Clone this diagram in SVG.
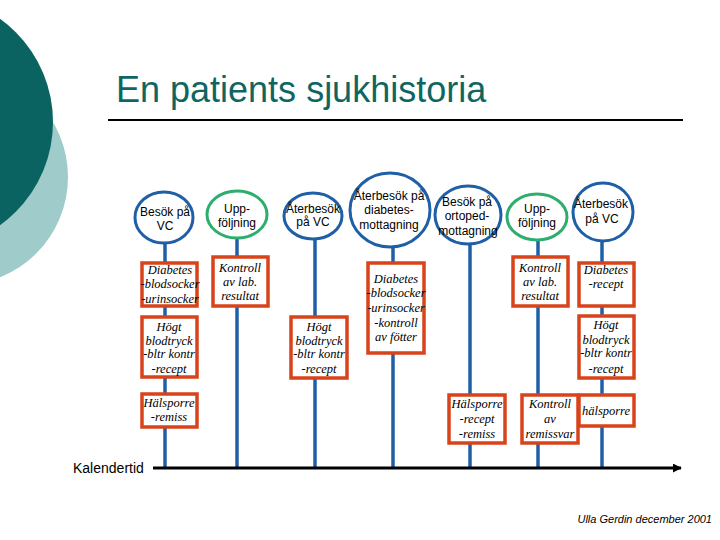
<svg xmlns="http://www.w3.org/2000/svg" width="720" height="540" viewBox="0 0 720 540">
<defs>
<style>
.bg{fill:#ffffff}
.vis{fill:none;stroke-width:3}
.blue{stroke:#1f5fa6}
.green{stroke:#2eae6e}
.ell{fill:#ffffff;stroke-width:3}
.box{fill:#ffffff;stroke:#d8431b;stroke-width:3.5}
.vline{stroke:#1f5fa6;stroke-width:3.5;fill:none}
.ct{font-family:"Liberation Sans",Arial,sans-serif;font-size:12px;fill:#000;text-anchor:middle}
.bt{font-family:"Liberation Serif","Times New Roman",serif;font-style:italic;font-size:12.5px;fill:#000;text-anchor:middle}
</style>
<marker id="arr" viewBox="0 0 10 10" refX="9" refY="5" markerWidth="3" markerHeight="3" orient="auto">
<path d="M0,0 L10,5 L0,10 z" fill="#000"/>
</marker>
</defs>
<rect class="bg" x="0" y="0" width="720" height="540"/>
<circle cx="-40" cy="177" r="108" fill="#9fcbcb"/>
<circle cx="-74" cy="122" r="127" fill="#0a6360"/>
<text x="116" y="102" font-family="'Liberation Sans',Arial,sans-serif" font-size="36" fill="#0e6663">En patients sjukhistoria</text>
<line x1="108" y1="120" x2="683" y2="120" stroke="#000" stroke-width="2"/>

<g id="connectors">
<line class="vline" x1="165" y1="243" x2="165" y2="468"/>
<line class="vline" x1="237" y1="238" x2="237" y2="468"/>
<line class="vline" x1="315" y1="239" x2="315" y2="468"/>
<line class="vline" x1="393" y1="247" x2="393" y2="468"/>
<line class="vline" x1="470" y1="244" x2="470" y2="468"/>
<line class="vline" x1="538" y1="240" x2="538" y2="468"/>
<line class="vline" x1="602" y1="241" x2="602" y2="468"/>
<line x1="153" y1="468" x2="681" y2="468" stroke="#000" stroke-width="3" marker-end="url(#arr)"/>
</g>

<g id="n1">
<ellipse class="ell blue" cx="164" cy="217.5" rx="29" ry="25.5"/>
<text class="ct" x="165" y="216">Besök på</text>
<text class="ct" x="165" y="230">VC</text>
</g>
<g id="n2">
<ellipse class="ell green" cx="237" cy="214.5" rx="30" ry="23.5"/>
<text class="ct" x="237" y="213">Upp-</text>
<text class="ct" x="237" y="227">följning</text>
</g>
<g id="n3">
<ellipse class="ell blue" cx="313" cy="216" rx="29" ry="23"/>
<text class="ct" x="313" y="213">Återbesök</text>
<text class="ct" x="313" y="226">på VC</text>
</g>
<g id="n4">
<ellipse class="ell blue" cx="390" cy="210" rx="40" ry="37"/>
<text class="ct" x="389" y="200">Återbesök på</text>
<text class="ct" x="389" y="214">diabetes-</text>
<text class="ct" x="389" y="229">mottagning</text>
</g>
<g id="n5">
<ellipse class="ell blue" cx="468" cy="215" rx="33" ry="29"/>
<text class="ct" x="467" y="206">Besök på</text>
<text class="ct" x="467" y="220">ortoped-</text>
<text class="ct" x="468" y="235">mottagning</text>
</g>
<g id="n6">
<ellipse class="ell green" cx="537" cy="217" rx="30" ry="23"/>
<text class="ct" x="537" y="213">Upp-</text>
<text class="ct" x="537" y="227">följning</text>
</g>
<g id="n7">
<ellipse class="ell blue" cx="603" cy="212" rx="30" ry="29"/>
<text class="ct" x="601" y="208">Återbesök</text>
<text class="ct" x="602" y="223">på VC</text>
</g>

<g id="b1">
<rect class="box" x="142" y="263" width="55" height="43"/>
<text class="bt" x="170" y="274">Diabetes</text>
<text class="bt" x="170" y="288">-blodsocker</text>
<text class="bt" x="170" y="303">-urinsocker</text>
</g>
<g id="b2">
<rect class="box" x="142" y="317" width="55" height="60"/>
<text class="bt" x="169" y="331">Högt</text>
<text class="bt" x="169" y="345">blodtryck</text>
<text class="bt" x="169" y="358">-bltr kontr</text>
<text class="bt" x="169" y="373">-recept</text>
</g>
<g id="b3">
<rect class="box" x="142" y="394" width="55" height="33"/>
<text class="bt" x="169" y="407">Hälsporre</text>
<text class="bt" x="169" y="421">-remiss</text>
</g>
<g id="b4">
<rect class="box" x="213" y="257" width="55" height="49"/>
<text class="bt" x="240" y="272">Kontroll</text>
<text class="bt" x="240" y="286">av lab.</text>
<text class="bt" x="240" y="300">resultat</text>
</g>
<g id="b5">
<rect class="box" x="291" y="317" width="56" height="61"/>
<text class="bt" x="319" y="331">Högt</text>
<text class="bt" x="319" y="345">blodtryck</text>
<text class="bt" x="319" y="358">-bltr kontr</text>
<text class="bt" x="319" y="373">-recept</text>
</g>
<g id="b6">
<rect class="box" x="368" y="263" width="56" height="90"/>
<text class="bt" x="396" y="283">Diabetes</text>
<text class="bt" x="396" y="297">-blodsocker</text>
<text class="bt" x="396" y="312">-urinsocker</text>
<text class="bt" x="396" y="327">-kontroll</text>
<text class="bt" x="396" y="341">av fötter</text>
</g>
<g id="b7">
<rect class="box" x="449" y="395" width="56" height="48"/>
<text class="bt" x="477" y="408">Hälsporre</text>
<text class="bt" x="477" y="423">-recept</text>
<text class="bt" x="477" y="438">-remiss</text>
</g>
<g id="b8">
<rect class="box" x="513" y="257" width="55" height="49"/>
<text class="bt" x="540" y="272">Kontroll</text>
<text class="bt" x="540" y="286">av lab.</text>
<text class="bt" x="540" y="300">resultat</text>
</g>
<g id="b9">
<rect class="box" x="522" y="395" width="56" height="48"/>
<text class="bt" x="550" y="408">Kontroll</text>
<text class="bt" x="550" y="423">av</text>
<text class="bt" x="550" y="438">remissvar</text>
</g>
<g id="b10">
<rect class="box" x="579" y="263" width="55" height="43"/>
<text class="bt" x="606" y="274">Diabetes</text>
<text class="bt" x="606" y="288">-recept</text>
</g>
<g id="b11">
<rect class="box" x="579" y="316" width="55" height="62"/>
<text class="bt" x="606" y="329">Högt</text>
<text class="bt" x="606" y="344">blodtryck</text>
<text class="bt" x="606" y="357">-bltr kontr</text>
<text class="bt" x="606" y="373">-recept</text>
</g>
<g id="b12">
<rect class="box" x="579" y="395" width="55" height="31"/>
<text class="bt" x="606" y="415">hälsporre</text>
</g>

<text x="73" y="473" font-family="'Liberation Sans',Arial,sans-serif" font-size="14" fill="#000">Kalendertid</text>
<text x="712" y="523" text-anchor="end" font-family="'Liberation Sans',Arial,sans-serif" font-style="italic" font-size="11" fill="#000">Ulla Gerdin december 2001</text>
</svg>
